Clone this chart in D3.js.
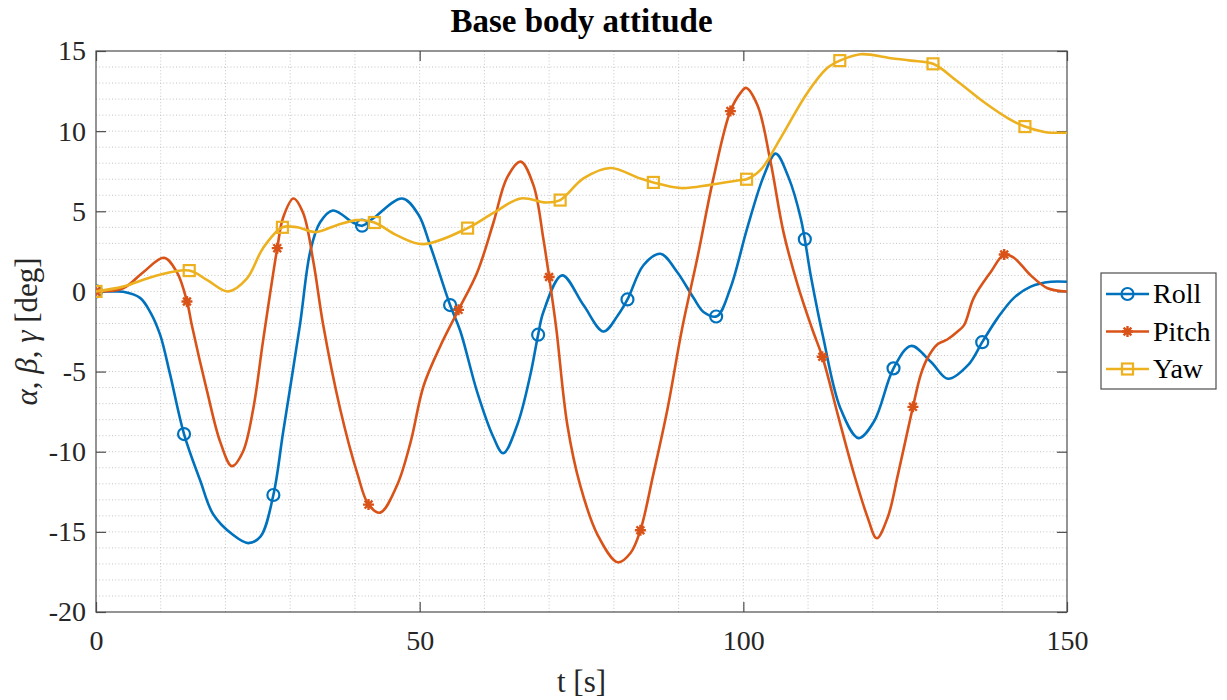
<!DOCTYPE html>
<html>
<head>
<meta charset="utf-8">
<title>Base body attitude</title>
<script src="https://d3js.org/d3.v7.min.js"></script>
<style>
  body { margin: 0; background: #fff; }
  svg text { font-family: "Liberation Serif", "Times New Roman", serif !important; }
</style>
</head>
<body>
<svg id="chart" width="1227" height="700"></svg>
<script>
// curve knots [t, value]
const rollPts = [[0,0],[2.5,0],[4.2,-0.02],[6.8,-0.4],[8.4,-1.3],[9.9,-2.7],[11.4,-5.1],[13.6,-8.9],[16.1,-11.8],
  [18.1,-13.9],[21.2,-15.2],[23.5,-15.7],[25.4,-15.3],[27.4,-12.7],[28.9,-8.8],[31.5,-2.1],[33.1,2.5],[34.6,4.3],
  [36.6,5.05],[39.7,4.3],[41.1,4.1],[42.8,4.55],[47.3,5.8],[49.8,4.8],[51.6,2.9],[54.7,-0.85],[56.3,-2.5],
  [58.9,-6.3],[61.4,-9.1],[62.9,-10.1],[65.1,-8.3],[67.1,-5.2],[68.3,-2.7],[69.1,-1.3],[72.0,1.0],
  [75.3,-0.85],[78.4,-2.5],[80.6,-1.5],[82.1,-0.5],[84.6,1.65],[87.2,2.35],[89.8,1.2],[92.3,-0.4],
  [93.9,-1.3],[95.9,-1.55],[98,0.2],[100.6,3.95],[103.2,7.25],[105,8.6],[107,7.1],[108.9,4.5],[110.5,0.8],
  [112.3,-2.8],[115,-7.3],[117.8,-9.15],[120.2,-8.1],[123.2,-4.8],[125.9,-3.4],[129,-4.4],[131.6,-5.45],
  [134.7,-4.6],[137,-3.1],[139.3,-1.65],[141.8,-0.4],[144.4,0.3],[147.5,0.6],[150,0.6]];

const pitchPts = [[0,0],[4.2,0.2],[7.3,1.2],[10.5,2.1],[12.5,1.2],[14.1,-0.7],[14.8,-2.1],[17.2,-6.3],
  [19.2,-9.4],[21.0,-10.9],[22.7,-10.0],[24.3,-7.3],[25.8,-3.1],[28,2.7],[28.9,4.6],[30.5,5.8],[32,4.9],
  [33.6,1.8],[35.1,-2.1],[37.7,-7.3],[40.4,-11.4],[42.1,-13.3],[43.9,-13.8],[46.5,-12.1],[48.6,-9.4],
  [50.6,-5.9],[53.2,-3.4],[56,-1.15],[58.9,1.2],[61.4,4.3],[63.5,7.1],[65.6,8.1],[67.6,6.6],[69.1,3.3],
  [70,0.9],[71.1,-2.3],[72.8,-8.3],[74.8,-12.1],[77.5,-15.2],[80.6,-16.9],[82.6,-16.3],[84.1,-14.9],
  [86.1,-11.4],[88.3,-7.3],[90.5,-2.4],[92.9,2.1],[95.4,7.1],[98,11.25],[99.6,12.4],[100.4,12.7],
  [102.2,11.6],[104.2,8.1],[106.2,3.7],[108.4,0.4],[110.6,-2.3],[112.3,-4.2],[114.6,-7.7],[117.1,-11.4],
  [119.2,-14.1],[120.6,-15.4],[122.3,-14.1],[123.9,-11.4],[126.2,-7.2],[127.4,-5.2],[128.4,-4.2],[130,-3.3],
  [131.5,-3.0],[133.1,-2.5],[134.1,-2.1],[135.6,-0.4],[138.2,1.2],[140.3,2.3],[141.8,2.1],[144.4,1.0],
  [147,0.2],[150,0]];

const yawPts = [[0,0],[4.2,0.3],[9.4,1.0],[14.4,1.3],[17.2,0.7],[20.4,0.0],[23.3,0.8],[25.8,2.7],[28.8,4.0],
  [31.1,4.0],[33.9,3.7],[37.3,4.15],[40.4,4.45],[43,4.3],[46.5,3.5],[50.5,2.95],[57.4,3.95],[61.4,4.9],
  [65.6,5.8],[69.5,5.55],[71.7,5.7],[75.3,7.05],[79.5,7.7],[83.7,7.1],[86.1,6.8],[90.3,6.45],[94.9,6.65],
  [99.6,6.95],[100.5,7.0],[102.7,7.6],[105.8,9.6],[109.9,12.4],[113,13.95],[114.9,14.4],[118.1,14.8],
  [122.8,14.55],[125.9,14.4],[129.3,14.2],[133.1,13.1],[137.2,11.8],[140.9,10.8],[143.4,10.3],
  [146.5,9.95],[150,9.9]];

// times where the markers sit
const rollMarkT  = [0, 13.6, 27.4, 41.1, 54.7, 68.3, 82.1, 95.8, 109.5, 123.2, 136.9];
const pitchMarkT = [0, 14.05, 28.0, 42.1, 56.0, 70.0, 84.1, 98.0, 112.2, 126.2, 140.3];
const yawMarkT   = [0, 14.4, 28.8, 43.0, 57.4, 71.7, 86.1, 100.5, 114.9, 129.3, 143.5];

const seriesNames = ["Roll", "Pitch", "Yaw"];
const xTicks = [0, 50, 100, 150];
const yTicks = [-20, -15, -10, -5, 0, 5, 10, 15];

const series = [
  {name: seriesNames[0], pts: rollPts,  marks: rollMarkT,  color: "#0072BD", marker: "circle"},
  {name: seriesNames[1], pts: pitchPts, marks: pitchMarkT, color: "#D95319", marker: "star"},
  {name: seriesNames[2], pts: yawPts,   marks: yawMarkT,   color: "#EDB120", marker: "square"}
];

const FONT = '"Liberation Serif", "Times New Roman", serif';
const L = 96, R = 1067, T = 51, B = 612;
const x = d3.scaleLinear().domain([0, 150]).range([L, R]);
const y = d3.scaleLinear().domain([-20, 15]).range([B, T]);

const svg = d3.select("#chart").attr("font-family", FONT);

// grid (minor every 10 s / 1 deg)
const grid = svg.append("g").attr("stroke", "#c4c4c4").attr("stroke-width", 1)
  .attr("stroke-dasharray", "1,2.2");
grid.selectAll(".gx").data(d3.range(10, 150, 10)).enter().append("line")
  .attr("x1", d => x(d)).attr("x2", d => x(d)).attr("y1", T).attr("y2", B);
grid.selectAll(".gy").data(d3.range(-19, 15, 1)).enter().append("line")
  .attr("y1", d => y(d)).attr("y2", d => y(d)).attr("x1", L).attr("x2", R);

// axes, ticks pointing inward
function styleAxis(g) {
  g.attr("font-family", FONT);
  g.selectAll("path, line").attr("stroke", "#4d4d4d").attr("stroke-width", 1.2);
  g.selectAll("text").style("font-size", "28px").style("font-family", FONT).attr("fill", "#262626");
}
const fmt = d => String(d);
svg.append("g").attr("transform", `translate(0,${B})`)
  .call(d3.axisBottom(x).tickValues(xTicks).tickFormat(fmt).tickSize(-10).tickSizeOuter(0).tickPadding(18))
  .call(styleAxis);
svg.append("g").attr("transform", `translate(0,${T})`)
  .call(d3.axisTop(x).tickValues(xTicks).tickSize(-10).tickSizeOuter(0).tickFormat(""))
  .call(styleAxis);
svg.append("g").attr("transform", `translate(${L},0)`)
  .call(d3.axisLeft(y).tickValues(yTicks).tickFormat(fmt).tickSize(-10).tickSizeOuter(0).tickPadding(10))
  .call(styleAxis);
svg.append("g").attr("transform", `translate(${R},0)`)
  .call(d3.axisRight(y).tickValues(yTicks).tickSize(-10).tickSizeOuter(0).tickFormat(""))
  .call(styleAxis);
svg.selectAll(".domain").remove();
svg.append("rect").attr("x", L).attr("y", T).attr("width", R - L).attr("height", B - T)
  .attr("fill", "none").attr("stroke", "#4d4d4d").attr("stroke-width", 1.2);

svg.append("clipPath").attr("id", "clip").append("rect")
  .attr("x", L).attr("y", T - 8).attr("width", R - L).attr("height", B - T + 16);

function drawMarker(g, type, cx, cy, color) {
  if (type === "circle") {
    g.append("circle").attr("cx", cx).attr("cy", cy).attr("r", 6)
      .attr("fill", "none").attr("stroke", color).attr("stroke-width", 2.2);
  } else if (type === "square") {
    g.append("rect").attr("x", cx - 5.5).attr("y", cy - 5.5).attr("width", 11).attr("height", 11)
      .attr("fill", "none").attr("stroke", color).attr("stroke-width", 2.2);
  } else {
    const a = 5.5, b = 3.9;
    g.append("path")
      .attr("d", `M${cx - a},${cy}H${cx + a}M${cx},${cy - a}V${cy + a}` +
                 `M${cx - b},${cy - b}L${cx + b},${cy + b}M${cx - b},${cy + b}L${cx + b},${cy - b}`)
      .attr("stroke", color).attr("stroke-width", 2.4).attr("fill", "none");
  }
}

// find point on drawn path with given x
function pointAtX(node, px) {
  let lo = 0, hi = node.getTotalLength();
  for (let i = 0; i < 40; i++) {
    const mid = (lo + hi) / 2;
    if (node.getPointAtLength(mid).x < px) lo = mid; else hi = mid;
  }
  return node.getPointAtLength((lo + hi) / 2);
}

const line = d3.line().x(d => x(d[0])).y(d => y(d[1])).curve(d3.curveCatmullRom.alpha(0.5));
const plot = svg.append("g").attr("clip-path", "url(#clip)");

series.forEach(s => {
  const p = plot.append("path").datum(s.pts).attr("d", line)
    .attr("fill", "none").attr("stroke", s.color).attr("stroke-width", 2.6)
    .attr("stroke-linejoin", "round");
  const mg = plot.append("g");
  s.marks.forEach(t => {
    const pt = pointAtX(p.node(), x(t));
    drawMarker(mg, s.marker, pt.x, pt.y, s.color);
  });
});

// title and labels
svg.append("text").attr("x", (L + R) / 2).attr("y", 32).attr("text-anchor", "middle")
  .style("font-size", "33px").style("font-weight", "bold").style("font-family", FONT).attr("fill", "#000")
  .text("Base body attitude");

svg.append("text").attr("x", (L + R) / 2).attr("y", 692).attr("text-anchor", "middle")
  .style("font-size", "31px").style("font-family", FONT).attr("fill", "#262626").text("t [s]");

const yl = svg.append("text").attr("transform", `translate(37,${(T + B) / 2}) rotate(-90)`)
  .attr("text-anchor", "middle").style("font-size", "31px").style("font-family", FONT).attr("fill", "#262626");
yl.append("tspan").style("font-style", "italic").text("α");
yl.append("tspan").text(",  ");
yl.append("tspan").style("font-style", "italic").text("β");
yl.append("tspan").text(",  ");
yl.append("tspan").style("font-style", "italic").text("γ");
yl.append("tspan").text(" [deg]");

// legend
const leg = svg.append("g");
leg.append("rect").attr("x", 1101).attr("y", 273).attr("width", 115).attr("height", 116)
  .attr("fill", "#fff").attr("stroke", "#4d4d4d").attr("stroke-width", 1.2);
series.forEach((s, i) => {
  const ly = 294 + i * 37.5;
  leg.append("line").attr("x1", 1106).attr("x2", 1149).attr("y1", ly).attr("y2", ly)
    .attr("stroke", s.color).attr("stroke-width", 2.6);
  drawMarker(leg, s.marker, 1127.5, ly, s.color);
  leg.append("text").attr("x", 1153).attr("y", ly).attr("dy", "0.33em")
    .style("font-size", "28px").style("font-family", FONT).attr("fill", "#000").text(s.name);
});
</script>
</body>
</html>
